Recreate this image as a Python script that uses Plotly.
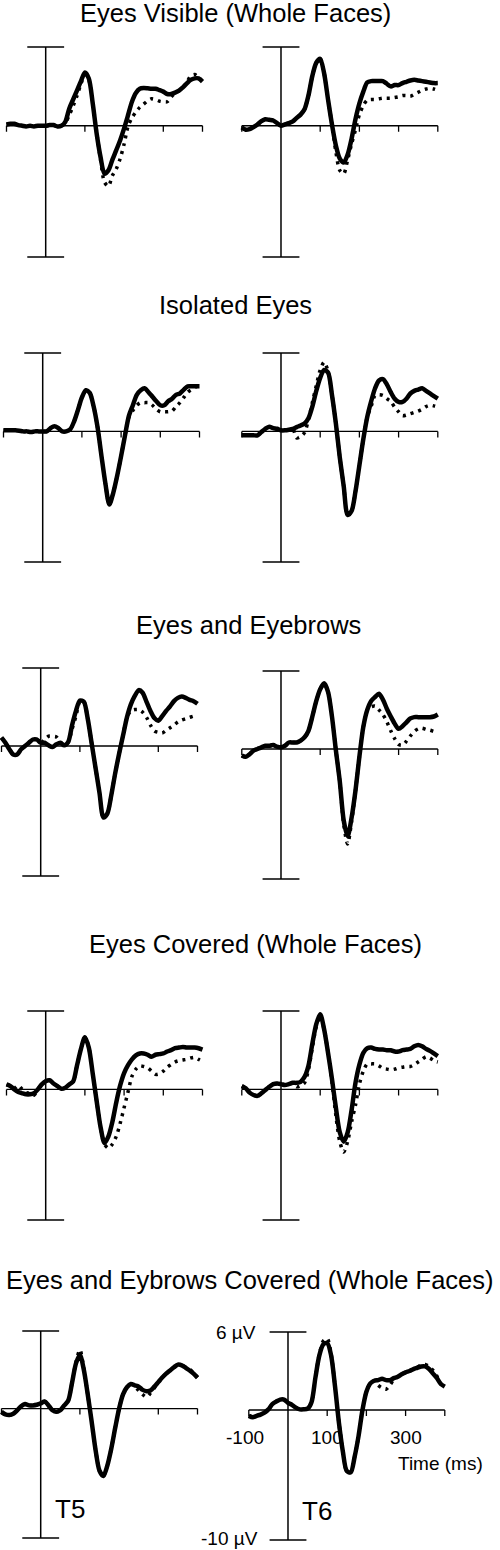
import plotly.graph_objects as go

# ---------------- data ----------------
TIME_MS = list(range(-100, 401, 10))
ROW_TITLES = ["Eyes Visible (Whole Faces)", "Isolated Eyes", "Eyes and Eyebrows",
              "Eyes Covered (Whole Faces)", "Eyes and Eybrows Covered (Whole Faces)"]
ELECTRODES = ["T5", "T6"]
X_TICKS = [-100, 100, 200, 300, 400]
X_TICK_LABELS = ["-100", "100", "300"]
X_TICK_LABEL_VALUES = [-100, 100, 300]
X_TITLE = "Time (ms)"
Y_TOP, Y_BOTTOM = 6, -10
Y_LABELS = ["6 µV", "-10 µV"]

# Row 1: Eyes visible (whole faces)
EV_T5_SOLID = [0.1, 0.15, 0.15, 0.05, 0.0, -0.05, 0.0, -0.05, 0.0, 0.0,
               0.0, 0.05, 0.05, -0.05, 0.0, 0.3, 1.3, 2.0, 2.7, 3.4,
               4.05, 3.6, 1.7, -0.6, -2.4, -3.65, -3.4, -2.6, -1.86, -1.1,
               -0.2, 0.8, 1.83, 2.5, 2.82, 2.87, 2.85, 2.82, 2.82, 2.72,
               2.6, 2.42, 2.42, 2.52, 2.67, 2.93, 3.23, 3.49, 3.61, 3.61, 3.36]
EV_T5_DOTTED = [0.1, 0.15, 0.15, 0.05, 0.0, -0.05, 0.0, -0.05, 0.0, 0.0,
                0.0, 0.05, 0.05, -0.05, 0.0, 0.2, 0.8, 1.5, 2.3, 3.2,
                3.9, 3.5, 1.8, -0.5, -2.6, -4.3, -4.6, -3.8, -3.3, -2.5,
                -1.4, -0.05, 0.6, 1.05, 1.4, 1.65, 1.9, 2.05, 2.0, 1.88,
                1.83, 1.83, 2.2, 2.5, 2.67, 2.93, 3.3, 3.8, 3.9, 3.7, 3.36]
EV_T6_SOLID = [-0.13, -0.3, -0.25, -0.1, 0.1, 0.35, 0.5, 0.45, 0.4, 0.2,
               0.0, 0.1, 0.2, 0.33, 0.6, 0.85, 1.25, 2.3, 3.8, 4.8,
               5.1, 4.0, 2.0, 0.1, -1.5, -2.5, -2.8, -2.2, -1.0, 0.5,
               1.7, 2.6, 3.3, 3.4, 3.4, 3.4, 3.4, 3.2, 3.0, 3.1,
               3.1, 3.25, 3.35, 3.45, 3.5, 3.45, 3.4, 3.35, 3.3, 3.25, 3.25]
EV_T6_DOTTED = [-0.13, -0.3, -0.25, -0.1, 0.1, 0.35, 0.5, 0.45, 0.4, 0.2,
                0.0, 0.1, 0.2, 0.33, 0.6, 0.85, 1.25, 2.3, 3.8, 4.8,
                5.1, 4.0, 2.0, 0.1, -2.0, -3.4, -3.65, -2.6, -1.4, -0.3,
                0.85, 1.55, 1.95, 2.0, 2.0, 2.05, 2.1, 2.1, 2.1, 2.15,
                2.2, 2.3, 2.3, 2.25, 2.4, 2.55, 2.7, 2.8, 2.85, 2.8, 2.7]

# Row 2: Isolated eyes
IE_T5_SOLID = [0.08, 0.08, 0.08, 0.08, 0.05, 0.0, 0.0, -0.05, 0.0, 0.0,
               0.0, 0.0, 0.25, 0.4, 0.25, 0.0, 0.0, 0.15, 0.75, 1.65,
               2.6, 3.15, 2.95, 1.9, 0.3, -1.9, -4.0, -5.6, -4.7, -3.4,
               -1.9, -0.3, 1.2, 2.0, 2.8, 3.15, 3.3, 3.0, 2.65, 2.3,
               2.0, 2.0, 2.3, 2.5, 2.8, 2.9, 3.2, 3.45, 3.45, 3.45, 3.45]
IE_T5_DOTTED = [0.08, 0.08, 0.08, 0.08, 0.05, 0.0, 0.0, -0.05, 0.0, 0.0,
                0.0, 0.0, 0.25, 0.4, 0.25, 0.0, 0.0, 0.15, 0.75, 1.65,
                2.6, 3.15, 2.95, 1.9, 0.3, -1.9, -4.0, -5.6, -4.7, -3.4,
                -1.9, -0.3, 1.1, 1.6, 2.0, 2.2, 2.2, 2.2, 2.0, 1.7,
                1.5, 1.5, 1.5, 1.55, 1.9, 2.2, 2.6, 3.0, 3.2, 3.4, 3.45]
IE_T6_SOLID = [-0.3, -0.3, -0.3, -0.3, -0.3, -0.05, 0.2, 0.35, 0.25, 0.2,
               0.08, 0.08, 0.13, 0.2, 0.33, 0.45, 0.6, 1.0, 1.9, 3.1,
               4.1, 4.7, 4.5, 2.8, 0.6, -2.0, -4.2, -6.4, -6.1, -4.6,
               -2.6, -0.6, 1.1, 2.3, 3.3, 3.9, 4.0, 3.6, 3.0, 2.5,
               2.25, 2.25, 2.5, 2.9, 3.1, 3.2, 3.3, 3.1, 2.9, 2.7, 2.5]
IE_T6_DOTTED = [-0.3, -0.3, -0.3, -0.3, -0.3, -0.05, 0.2, 0.35, 0.25, 0.2,
                0.08, 0.08, 0.13, 0.2, -0.5, -0.4, -0.1, 0.9, 2.2, 3.5,
                4.7, 5.3, 4.6, 2.8, 0.6, -2.0, -4.2, -6.4, -6.1, -4.6,
                -2.6, -0.6, 1.1, 1.9, 2.75, 2.8, 2.75, 2.5, 2.3, 1.85,
                1.5, 1.2, 1.25, 1.35, 1.45, 1.55, 1.7, 1.9, 2.0, 1.95, 1.85]

# Row 3: Eyes and eyebrows
EB_T5_SOLID = [0.65, 0.25, -0.25, -0.65, -0.65, -0.25, 0.0, 0.25, 0.5, 0.5,
               0.25, 0.25, 0.05, -0.08, 0.13, 0.25, 0.05, 0.3, 1.6, 2.7,
               3.5, 3.4, 2.1, 0.2, -1.7, -3.6, -5.5, -5.2, -3.8, -2.1,
               -0.6, 0.8, 2.2, 3.2, 3.85, 4.3, 4.1, 3.4, 2.7, 2.15,
               1.95, 2.3, 2.7, 3.05, 3.45, 3.7, 3.8, 3.7, 3.55, 3.45, 3.25]
EB_T5_DOTTED = [0.65, 0.25, -0.25, -0.65, -0.65, -0.25, 0.0, 0.25, 0.5, 0.5,
                0.25, 0.5, 0.75, 0.75, 0.7, 0.3, 0.1, 0.3, 1.3, 2.3,
                3.4, 3.4, 2.1, 0.2, -1.7, -3.6, -5.5, -5.2, -3.8, -2.1,
                -0.6, 0.8, 2.2, 2.7, 2.8, 2.8, 2.6, 2.2, 1.6, 1.15,
                1.05, 1.0, 1.2, 1.4, 1.6, 1.85, 2.0, 2.1, 2.2, 2.3, 2.3]
EB_T6_SOLID = [-0.5, -0.6, -0.4, -0.13, 0.0, 0.13, 0.25, 0.25, 0.3, 0.18,
               0.13, 0.25, 0.5, 0.5, 0.5, 0.65, 0.9, 1.4, 2.5, 3.7,
               4.6, 5.05, 4.4, 2.5, -0.1, -2.5, -5.5, -6.7, -5.3, -3.2,
               -0.6, 1.7, 3.0, 3.7, 4.0, 4.25, 3.8, 3.1, 2.5, 1.95,
               1.55, 1.75, 2.05, 2.35, 2.45, 2.45, 2.45, 2.45, 2.45, 2.5, 2.65]
EB_T6_DOTTED = [-0.5, -0.6, -0.4, -0.13, 0.0, 0.13, 0.25, 0.25, 0.3, 0.18,
                0.13, 0.25, 0.5, 0.5, 0.5, 0.65, 0.9, 1.4, 2.5, 3.7,
                4.6, 5.05, 4.4, 2.5, -0.1, -2.5, -5.8, -7.3, -5.6, -3.2,
                -0.6, 1.7, 3.0, 3.25, 3.3, 3.0, 2.65, 2.1, 1.4, 0.8,
                0.35, 0.3, 0.6, 1.0, 1.35, 1.55, 1.6, 1.5, 1.45, 1.35, 1.25]

# Row 4: Eyes covered (whole faces)
EC_T5_SOLID = [0.38, 0.25, 0.0, -0.2, -0.3, -0.38, -0.38, -0.3, 0.0, 0.38,
               0.63, 0.7, 0.45, 0.25, 0.05, 0.13, 0.38, 0.6, 1.85, 3.1,
               4.0, 3.2, 1.2, -0.9, -2.9, -4.1, -3.6, -2.5, -1.0, 0.3,
               1.25, 1.85, 2.3, 2.6, 2.75, 2.75, 2.65, 2.5, 2.65, 2.7,
               2.75, 2.9, 3.0, 3.15, 3.2, 3.25, 3.2, 3.2, 3.2, 3.15, 3.05]
EC_T5_DOTTED = [0.38, 0.25, 0.1, 0.3, 0.0, -0.25, -0.3, -0.45, 0.0, 0.38,
                0.63, 0.7, 0.45, 0.25, 0.05, 0.13, 0.38, 0.6, 1.85, 3.1,
                4.0, 3.2, 1.2, -0.9, -2.9, -4.2, -4.5, -4.2, -3.6, -2.6,
                -1.4, -0.2, 1.0, 1.55, 1.8, 1.75, 1.65, 1.4, 1.15, 1.2,
                1.4, 1.7, 1.9, 2.1, 2.2, 2.25, 2.3, 2.4, 2.45, 2.3, 2.15]
EC_T6_SOLID = [0.25, 0.08, -0.25, -0.43, -0.5, -0.3, -0.05, 0.2, 0.4, 0.45,
               0.4, 0.33, 0.4, 0.5, 0.5, 0.58, 0.95, 1.8, 3.5, 5.0,
               5.75, 4.6, 2.8, 0.8, -1.4, -3.3, -4.0, -3.3, -1.6, 0.5,
               1.9, 2.8, 3.15, 3.2, 3.1, 3.05, 3.05, 3.0, 3.0, 2.9,
               2.9, 3.0, 3.05, 3.1, 3.3, 3.4, 3.3, 3.1, 2.95, 2.75, 2.55]
EC_T6_DOTTED = [0.25, 0.08, -0.25, -0.43, -0.5, -0.3, -0.05, 0.2, 0.4, 0.45,
                0.4, 0.33, 0.4, 0.5, 0.2, 0.3, 0.5, 1.5, 3.2, 4.8,
                5.6, 4.6, 2.8, 0.6, -2.0, -4.0, -4.8, -4.0, -2.5, -1.2,
                0.4, 1.4, 1.95, 1.95, 1.95, 1.8, 1.6, 1.55, 1.5, 1.55,
                1.65, 1.7, 1.75, 1.75, 1.9, 2.1, 2.3, 2.5, 2.4, 2.2, 2.1]

# Row 5: Eyes and eyebrows covered (whole faces)
EBC_T5_SOLID = [-0.25, -0.45, -0.5, -0.4, -0.13, 0.18, 0.35, 0.25, 0.25, 0.3,
                0.4, 0.55, 0.25, -0.13, -0.25, -0.13, 0.25, 0.6, 2.0, 3.5,
                4.15, 3.0, 1.1, -1.0, -3.2, -4.8, -5.2, -4.4, -3.1, -1.5,
                0.0, 1.1, 1.65, 1.9, 1.8, 1.7, 1.45, 1.35, 1.4, 1.7,
                2.05, 2.4, 2.7, 2.95, 3.2, 3.4, 3.35, 3.15, 2.95, 2.7, 2.4]
EBC_T5_DOTTED = [-0.25, -0.45, -0.5, -0.4, -0.13, 0.18, 0.35, 0.25, 0.25, 0.3,
                 0.4, 0.55, 0.25, -0.13, -0.25, -0.13, 0.25, 0.6, 2.0, 3.6,
                 4.55, 3.1, 1.1, -1.0, -3.2, -4.8, -5.2, -4.4, -3.1, -1.5,
                 0.0, 1.1, 1.65, 1.9, 1.7, 1.4, 1.1, 0.9, 1.2, 1.6,
                 2.05, 2.4, 2.7, 2.95, 3.2, 3.4, 3.35, 3.2, 3.05, 2.75, 2.4]
EBC_T6_SOLID = [-0.45, -0.55, -0.45, -0.35, -0.2, 0.05, 0.45, 0.65, 0.8, 0.8,
                0.55, 0.4, 0.18, 0.05, 0.05, 0.1, 0.6, 2.5, 4.2, 5.05,
                5.15, 4.2, 1.8, -1.0, -3.2, -4.7, -4.8, -3.6, -2.0, 0.0,
                1.4, 2.05, 2.25, 2.3, 2.4, 2.3, 2.3, 2.45, 2.55, 2.75,
                2.9, 3.0, 3.15, 3.25, 3.35, 3.35, 3.15, 2.8, 2.45, 2.0, 1.8]
EBC_T6_DOTTED = [-0.45, -0.55, -0.45, -0.35, -0.2, 0.05, 0.45, 0.65, 0.8, 0.8,
                 0.55, 0.4, 0.18, 0.05, 0.05, 0.1, 0.6, 2.5, 4.3, 5.3,
                 5.5, 4.3, 1.8, -1.0, -3.2, -4.7, -4.8, -3.6, -2.0, 0.0,
                 1.4, 2.05, 2.25, 1.9, 1.7, 1.6, 1.9, 2.35, 2.55, 2.75,
                 2.9, 3.0, 3.15, 3.3, 3.45, 3.5, 3.35, 3.05, 2.6, 2.0, 1.8]

PANEL_SERIES = [
    (EV_T5_SOLID, EV_T5_DOTTED), (EV_T6_SOLID, EV_T6_DOTTED),
    (IE_T5_SOLID, IE_T5_DOTTED), (IE_T6_SOLID, IE_T6_DOTTED),
    (EB_T5_SOLID, EB_T5_DOTTED), (EB_T6_SOLID, EB_T6_DOTTED),
    (EC_T5_SOLID, EC_T5_DOTTED), (EC_T6_SOLID, EC_T6_DOTTED),
    (EBC_T5_SOLID, EBC_T5_DOTTED), (EBC_T6_SOLID, EBC_T6_DOTTED),
]

# ---------------- layout geometry (pixels) ----------------
W, H = 500, 1550
PX_PER_MS = 0.392
# (x pixel of t=0, y pixel of +6 µV cap, y pixel of -10 µV cap)
GEOM = [(45.7, 47, 257), (281, 47, 257),
        (42.7, 353, 562), (281, 353, 562),
        (40.7, 668, 876), (281, 671, 879),
        (45.7, 1011, 1220), (281, 1011, 1220),
        (40.7, 1331, 1538), (288, 1332, 1540)]
TITLE_POS = [(235, 13), (235, 305), (248, 625), (255, 944), (250, 1280)]
PAD_MS = 12
PAD_UV = 0.7
CAP_HALF_MS = 47
TICK_PX = 6
FONT = "Liberation Sans, Arial, Helvetica, sans-serif"

fig = go.Figure()
layout = dict(width=W, height=H, margin=dict(l=0, r=0, t=0, b=0),
              paper_bgcolor="white", plot_bgcolor="rgba(0,0,0,0)",
              showlegend=False)
shapes, annotations = [], []

for i, ((t0x, top_px, bot_px), (solid, dotted)) in enumerate(zip(GEOM, PANEL_SERIES)):
    n = "" if i == 0 else str(i + 1)
    xr, yr = "x" + n, "y" + n
    lo_px = max(0.0, t0x + (TIME_MS[0] - PAD_MS) * PX_PER_MS)
    hi_px = min(W, t0x + (TIME_MS[-1] + PAD_MS) * PX_PER_MS)
    x_range = [(lo_px - t0x) / PX_PER_MS, (hi_px - t0x) / PX_PER_MS]
    ppu = (bot_px - top_px) / (Y_TOP - Y_BOTTOM)
    ytop_px = top_px - PAD_UV * ppu
    ybot_px = bot_px + PAD_UV * ppu
    layout["xaxis" + n] = dict(domain=[lo_px / W, hi_px / W], range=x_range,
                               visible=False, fixedrange=True, anchor=yr)
    layout["yaxis" + n] = dict(domain=[1 - ybot_px / H, 1 - ytop_px / H],
                               range=[Y_BOTTOM - PAD_UV, Y_TOP + PAD_UV],
                               visible=False, fixedrange=True, anchor=xr)
    axis_line = dict(color="black", width=1.5)
    shapes.append(dict(type="line", xref=xr, yref=yr, x0=0, x1=0, y0=Y_BOTTOM, y1=Y_TOP, line=axis_line))
    for yv in (Y_TOP, Y_BOTTOM):
        shapes.append(dict(type="line", xref=xr, yref=yr, x0=-CAP_HALF_MS, x1=CAP_HALF_MS,
                           y0=yv, y1=yv, line=axis_line))
    shapes.append(dict(type="line", xref=xr, yref=yr, x0=TIME_MS[0], x1=TIME_MS[-1], y0=0, y1=0,
                       line=dict(color="black", width=1.3)))
    for tv in X_TICKS:
        shapes.append(dict(type="line", xref=xr, yref=yr, x0=tv, x1=tv, y0=0, y1=-TICK_PX / ppu,
                           line=dict(color="black", width=1.3)))
    fig.add_trace(go.Scatter(x=TIME_MS, y=solid, mode="lines", xaxis=xr, yaxis=yr,
                             line=dict(color="black", width=4.5, shape="spline", smoothing=0.8),
                             hoverinfo="skip"))
    fig.add_trace(go.Scatter(x=TIME_MS, y=dotted, mode="lines", xaxis=xr, yaxis=yr,
                             line=dict(color="black", width=3.5, dash="3px,5px",
                                       shape="spline", smoothing=0.8),
                             hoverinfo="skip"))

for title, (cx, cy) in zip(ROW_TITLES, TITLE_POS):
    annotations.append(dict(text=title, xref="paper", yref="paper", x=cx / W, y=1 - cy / H,
                            xanchor="center", yanchor="middle", showarrow=False,
                            font=dict(family=FONT, size=25.5, color="black")))

for k, name in enumerate(ELECTRODES):
    n = str(9 + k)
    annotations.append(dict(text=name, xref="x" + n, yref="y" + n, x=75, y=-7.75,
                            xanchor="center", yanchor="middle", showarrow=False,
                            font=dict(family=FONT, size=26, color="black")))

small = dict(family=FONT, size=19, color="black")
for lab, tv in zip(X_TICK_LABELS, X_TICK_LABEL_VALUES):
    annotations.append(dict(text=lab, xref="x10", yref="y10", x=tv, y=-2.15,
                            xanchor="center", yanchor="middle", showarrow=False, font=small,
                            xshift=-4 if tv < 0 else 0))
annotations.append(dict(text=X_TITLE, xref="x10", yref="y10", x=388, y=-4.15,
                        xanchor="center", yanchor="middle", showarrow=False, font=small))
annotations.append(dict(text=Y_LABELS[0], xref="x10", yref="y10", x=-76, y=Y_TOP,
                        xanchor="right", yanchor="middle", showarrow=False, font=small))
annotations.append(dict(text=Y_LABELS[1], xref="x10", yref="y10", x=-71, y=Y_BOTTOM + 0.15,
                        xanchor="right", yanchor="middle", showarrow=False, font=small))

layout["shapes"] = shapes
layout["annotations"] = annotations
fig.update_layout(**layout)
fig.write_html("out.html", config={"displayModeBar": False, "staticPlot": True},
               post_script="document.body.style.margin='0';document.body.style.overflow='hidden';")
